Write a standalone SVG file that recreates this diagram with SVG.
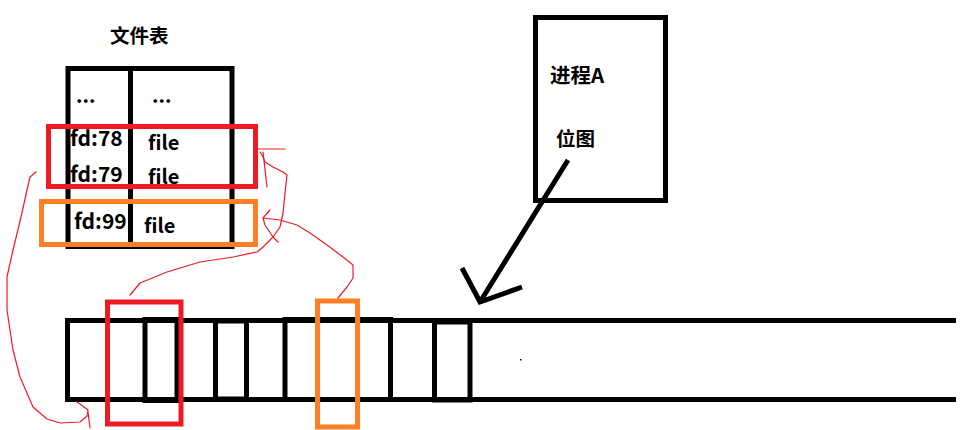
<svg xmlns="http://www.w3.org/2000/svg" width="969" height="430" viewBox="0 0 969 430">
<style>
text{font-family:"Noto Sans CJK SC","Noto Sans",sans-serif;font-weight:bold;fill:#000}
.t{font-size:19.5px}
.c{font-size:20px}
.fd{font-size:21px}
.blk{fill:none;stroke:#000;stroke-width:5}
.red{fill:none;stroke:#ED1C24;stroke-width:5}
.org{fill:none;stroke:#FF7F27;stroke-width:5}
.scr{fill:none;stroke:#ED1C24;stroke-width:1.2;stroke-linejoin:round;stroke-linecap:round}
</style>
<rect width="969" height="430" fill="#fff"/>
<g id="file-table">
<text class="t" x="110" y="43">文件表</text>
<rect class="blk" x="68" y="68.5" width="164" height="178"/>
<line class="blk" x1="130.5" y1="68" x2="130.5" y2="247"/>
<text class="c" x="76" y="103">...</text>
<text class="c" x="152" y="103">...</text>
<text class="fd" x="70" y="146">fd:78</text>
<text class="c" x="148" y="150">file</text>
<text class="fd" x="70" y="182">fd:79</text>
<text class="c" x="148" y="184">file</text>
<text class="fd" x="74" y="229">fd:99</text>
<text class="c" x="144" y="233">file</text>
</g>
<g id="table-red-highlight"><rect class="red" x="48.5" y="126.5" width="207" height="60"/></g>
<g id="table-orange-highlight"><rect class="org" x="41.5" y="201.5" width="214" height="43"/></g>
<g id="process-a">
<rect class="blk" x="535.5" y="17.5" width="130" height="183"/>
<text class="t" x="550" y="83" style="font-size:20.5px">进程A</text>
<text class="t" x="556" y="146">位图</text>
</g>
<g id="bitmap">
<line class="blk" x1="65" y1="320.5" x2="956" y2="320.5"/>
<line class="blk" x1="65" y1="399.5" x2="956" y2="399.5"/>
<line class="blk" x1="67.5" y1="318" x2="67.5" y2="402"/>
<rect class="blk" x="145" y="319.5" width="32" height="81"/>
<rect class="blk" x="215.5" y="321" width="31" height="78"/>
<rect class="blk" x="285" y="319.5" width="105.5" height="80"/>
<rect class="blk" x="434.5" y="322" width="35.5" height="78"/>
<rect x="520" y="359" width="1.5" height="1.5" fill="#000"/>
</g>
<g id="bitmap-red-highlight"><rect class="red" x="107.5" y="302" width="73.5" height="122"/></g>
<g id="bitmap-orange-highlight"><rect class="org" x="317.5" y="301" width="40" height="126"/></g>
<g id="connectors">
<path class="blk" d="M568 160 L480 302 M462 268 L480 302 L522 287" stroke-linejoin="miter"/>
<path class="scr" d="M36 172 L30 177 L27 190 L21 217 L13 250 L7 277 L7 310 L13 350 L20 377 L33 407 L47 419 L60 423 L80 422 L87 416 L88 410 L80 404 L77 402"/>
<path class="scr" d="M88 412 L90 428"/>
<path class="scr" d="M130 295 L140 283 L167 272 L200 262 L233 257 L257 252 L263 247 L273 237 L280 227 L283 213 L285 193 L287 175 L283 172 L273 167 L265 162 L263 157 L260 152"/>
<path class="scr" d="M258 149 L285 149 M263 152 L267 187"/>
<path class="scr" d="M270 210 L263 218 L265 225 L273 237 L278 242"/>
<path class="scr" d="M263 218 L280 220 L297 225 L310 233 L327 245 L343 257 L353 265 L353 278 L347 287 L338 298"/>
</g>
</svg>
